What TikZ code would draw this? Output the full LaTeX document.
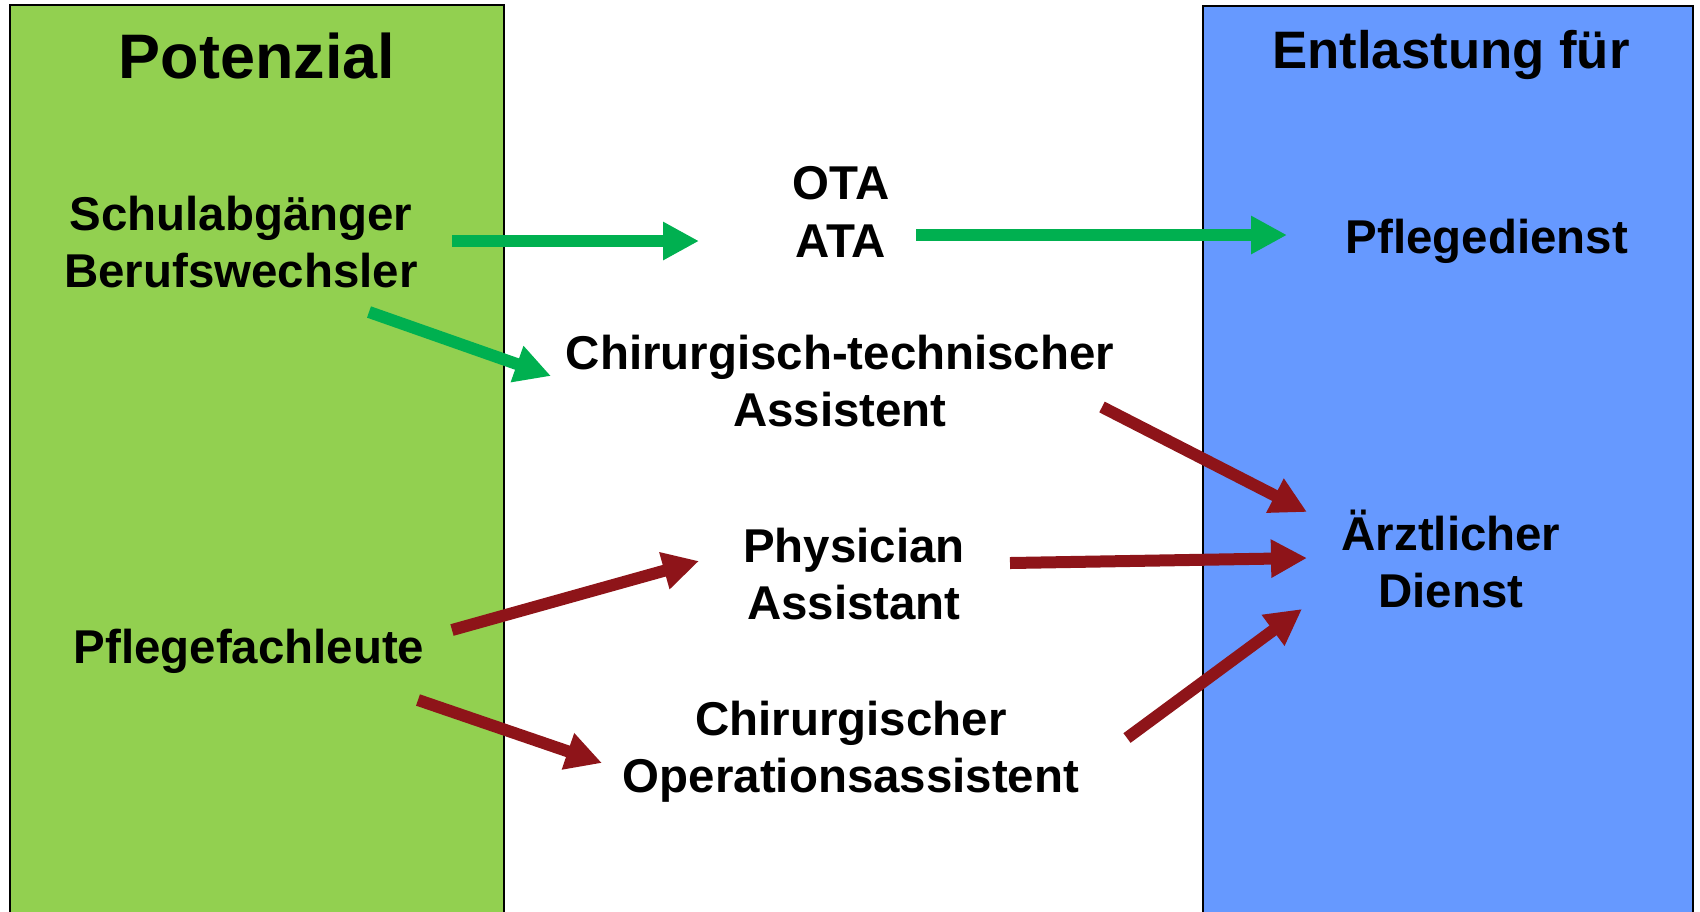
\documentclass[tikz,border=0pt]{standalone}
\usepackage{fontspec}
\setmainfont{Liberation Sans}
\usetikzlibrary{arrows.meta}
\usepackage{xcolor}
\definecolor{potgreen}{HTML}{92D050}
\definecolor{entblue}{HTML}{6699FF}
\definecolor{arrgreen}{HTML}{00B050}
\definecolor{arrred}{HTML}{8E1419}

\begin{document}
\begin{tikzpicture}[
    txt/.style={align=center, inner sep=0pt, font=\fontsize{13.5}{16.3}\selectfont\bfseries},
    pfeil/.style={line width=1.2mm, -{Triangle[length=3.6mm,width=3.6mm]}},
  ]
  \useasboundingbox (0,0) rectangle (17,-9.11);

  % the two columns
  \fill[potgreen, draw=black, line width=0.5pt] (0.10,-0.05) rectangle (5.04,-9.4);
  \fill[entblue, draw=black, line width=0.5pt] (12.03,-0.06) rectangle (16.93,-9.4);

  \node[txt, font=\fontsize{17.9}{21}\selectfont\bfseries](pot) at (2.57,-0.56) {Potenzial};
  \node[txt, font=\fontsize{15}{18}\selectfont\bfseries](entl) at (14.51,-0.55) {Entlastung für};

  \node[txt](schul) at (2.41,-2.42) {Schulabgänger\\Berufswechsler};
  \node[txt](pflfach) at (2.49,-6.51) {Pflegefachleute};

  \node[txt](ota) at (8.41,-2.12) {OTA\\ATA};
  \node[txt](cta) at (8.40,-3.81) {Chirurgisch-technischer\\Assistent};
  \node[txt](phys) at (8.54,-5.74) {Physician\\Assistant};
  \node[txt](cop) at (8.51,-7.52) {Chirurgischer\\Operationsassistent};

  \node[txt](pflege) at (14.87,-2.41) {Pflegedienst};
  \node[txt](aerzt) at (14.51,-5.59) {Ärztlicher\\Dienst};

  % arrow ends
  \coordinate (schulA) at (4.52,-2.41);
  \coordinate (schulB) at (3.69,-3.12);
  \coordinate (otaIn) at (6.99,-2.41);
  \coordinate (otaOut) at (9.16,-2.35);
  \coordinate (ctaIn) at (5.51,-3.76);
  \coordinate (ctaOut) at (11.02,-4.07);
  \coordinate (pflA) at (4.52,-6.30);
  \coordinate (pflB) at (4.18,-7.00);
  \coordinate (physIn) at (6.99,-5.61);
  \coordinate (physOut) at (10.10,-5.63);
  \coordinate (copIn) at (6.02,-7.63);
  \coordinate (copOut) at (11.27,-7.38);
  \coordinate (pflegeIn) at (12.87,-2.35);
  \coordinate (aerztA) at (13.07,-5.12);
  \coordinate (aerztB) at (13.07,-5.58);
  \coordinate (aerztC) at (13.02,-6.09);

  \draw[pfeil, color=arrgreen] (schulA) -- (otaIn);
  \draw[pfeil, color=arrgreen] (otaOut) -- (pflegeIn);
  \draw[pfeil, color=arrgreen] (schulB) -- (ctaIn);

  \draw[pfeil, color=arrred] (ctaOut) -- (aerztA);
  \draw[pfeil, color=arrred] (physOut) -- (aerztB);
  \draw[pfeil, color=arrred] (copOut) -- (aerztC);
  \draw[pfeil, color=arrred] (pflA) -- (physIn);
  \draw[pfeil, color=arrred] (pflB) -- (copIn);

\end{tikzpicture}
\end{document}
